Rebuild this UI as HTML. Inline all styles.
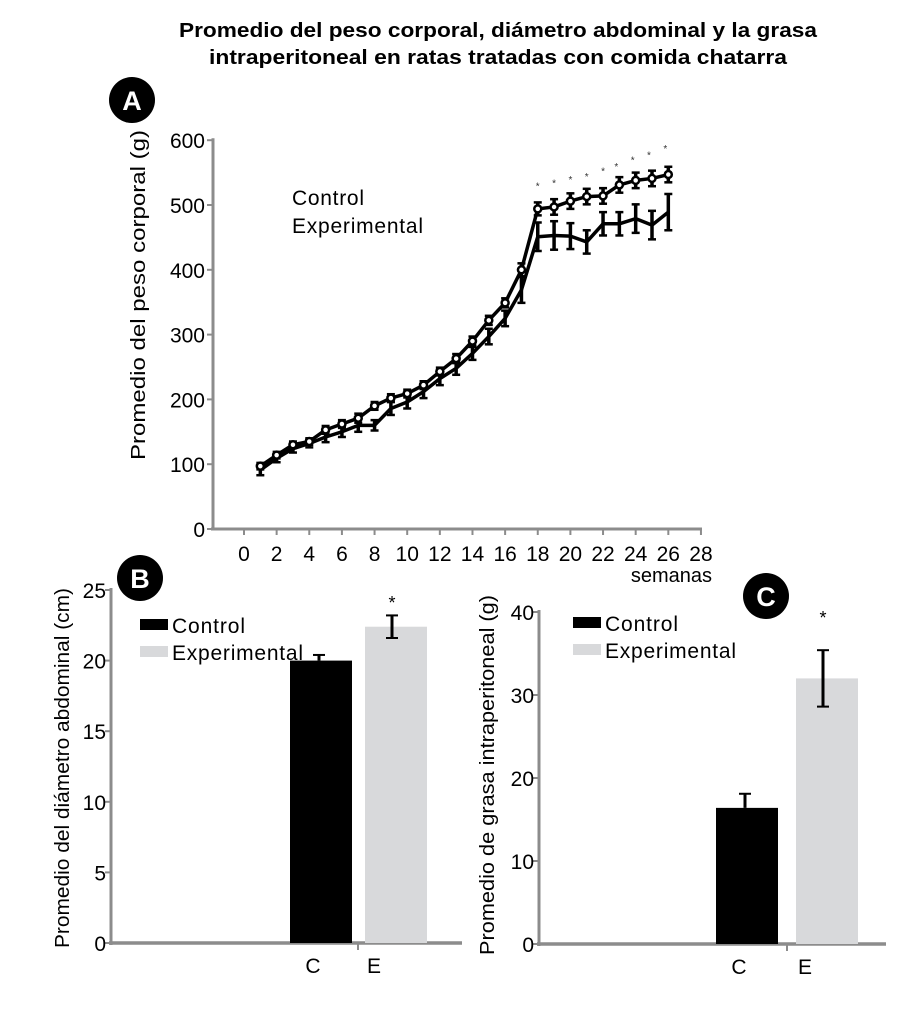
<!DOCTYPE html>
<html><head><meta charset="utf-8"><style>
body{margin:0;background:#fff;width:916px;height:1008px;overflow:hidden}
svg{font-family:"Liberation Sans",sans-serif}
</style></head><body>
<svg id="s" width="916" height="1008" viewBox="0 0 916 1008">
<g font-weight="bold" font-size="20" text-anchor="middle">
<text x="498" y="37" textLength="638" lengthAdjust="spacingAndGlyphs">Promedio del peso corporal, diámetro abdominal y la grasa</text>
<text x="498" y="64" textLength="578" lengthAdjust="spacingAndGlyphs">intraperitoneal en ratas tratadas con comida chatarra</text>
</g>
<g id="A"></g>
<g id="B"></g>
<g id="C"></g>
</svg>
<script>
const NS="http://www.w3.org/2000/svg";
function mk(p,t,a,txt){const e=document.createElementNS(NS,t);for(const k in a)e.setAttribute(k,a[k]);if(txt!==undefined)e.textContent=txt;p.appendChild(e);return e;}

// ---- Chart A data ----
const weeks=[1,2,3,4,5,6,7,8,9,10,11,12,13,14,15,16,17,18,19,20,21,22,23,24,25,26];
const controlVals=[97,114,130,135,153,162,171,190,202,209,222,243,263,290,322,349,400,494,497,506,513,514,531,538,541,547];
const controlErr=[5,5,5,5,6,6,7,6,6,6,6,6,7,7,7,7,10,10,12,12,12,12,12,12,12,12];
const expVals=[91,109,124,132,142,150,160,160,186,196,212,232,248,271,297,325,369,451,453,452,443,471,471,479,469,489];
const expErr=[8,6,6,6,8,8,10,8,10,10,10,10,10,10,12,12,20,22,22,20,18,18,18,22,22,28];
const sigWeeks=[18,19,20,21,22,23,24,25,26];
const sigY=[530,535,540,545,553,560,570,578,588];
const aYTicks=[0,100,200,300,400,500,600];
const aXTicks=[0,2,4,6,8,10,12,14,16,18,20,22,24,26,28];

const A=document.getElementById('A');
const ax=v=>244+v*16.32, ay=v=>529-v*0.648;
mk(A,'line',{x1:213,y1:ay(600)-2,x2:213,y2:530,stroke:'#8c8c8c','stroke-width':3,});
mk(A,'line',{x1:211,y1:529,x2:702,y2:529,stroke:'#8c8c8c','stroke-width':3,});
aYTicks.forEach(v=>{mk(A,'line',{x1:207,y1:ay(v),x2:213,y2:ay(v),stroke:'#8c8c8c','stroke-width':2});
 const t=mk(A,'text',{x:205,y:ay(v)+8,'font-size':21,'text-anchor':'end'},v);
 });
aXTicks.forEach(v=>{mk(A,'line',{x1:ax(v),y1:529,x2:ax(v),y2:535,stroke:'#8c8c8c','stroke-width':2});
 const t=mk(A,'text',{x:ax(v),y:561,'font-size':21,'text-anchor':'middle'},v);
 });
mk(A,'text',{x:712,y:582,'font-size':20,'text-anchor':'end',},'semanas');
mk(A,'text',{transform:'translate(145,295) rotate(-90)','font-size':20,'text-anchor':'middle',textLength:330,lengthAdjust:'spacingAndGlyphs',},'Promedio del peso corporal (g)');
mk(A,'text',{x:292,y:205,'font-size':21,textLength:72,},'Control');
mk(A,'text',{x:292,y:233,'font-size':21,textLength:131,},'Experimental');
function series(vals,err,name,circ){
 const g=mk(A,'g',{});
 mk(g,'polyline',{points:weeks.map((w,i)=>ax(w)+','+ay(vals[i])).join(' '),fill:'none',stroke:'#000','stroke-width':3.5,'stroke-linejoin':'round'});
 weeks.forEach((w,i)=>{const x=ax(w);
  mk(g,'line',{x1:x,y1:ay(vals[i]+err[i]),x2:x,y2:ay(vals[i]-err[i]),stroke:'#000','stroke-width':3.5});
  mk(g,'line',{x1:x-4,y1:ay(vals[i]+err[i]),x2:x+4,y2:ay(vals[i]+err[i]),stroke:'#000','stroke-width':2.5});
  mk(g,'line',{x1:x-4,y1:ay(vals[i]-err[i]),x2:x+4,y2:ay(vals[i]-err[i]),stroke:'#000','stroke-width':2.5});
  if(circ)mk(g,'circle',{cx:x,cy:ay(vals[i]),r:3.5,fill:'#fff',stroke:'#000','stroke-width':2.5});});
}
series(expVals,expErr,'experimental-line',false);
series(controlVals,controlErr,'control-line',true);
sigWeeks.forEach((w,i)=>{const t=mk(A,'text',{x:ax(w)+(i>4?-3:0),y:ay(sigY[i])+4,'font-size':10,'text-anchor':'middle',fill:'#333'},'*');
 });
mk(A,'circle',{cx:132,cy:100,r:23,fill:'#000',});
mk(A,'text',{x:132,y:110,'font-size':27,'font-weight':'bold',fill:'#fff','text-anchor':'middle'},'A');

// ---- Chart B data ----
const bCats=['C','E'];
const bVals=[20.0,22.4];
const bErr=[0.4,0.8];
const bTicks=[0,5,10,15,20,25];
// ---- Chart C data ----
const cCats=['C','E'];
const cVals=[16.4,32.0];
const cErr=[1.7,3.4];
const cTicks=[0,10,20,30,40];

function barChart(G,p,cats,vals,err,ticks,errUp,tag){
 const y=v=>p.y0-v*p.k;
 mk(G,'line',{x1:p.x0,y1:y(ticks[ticks.length-1])-2,x2:p.x0,y2:p.y0+2,stroke:'#8c8c8c','stroke-width':3});
 mk(G,'line',{x1:p.x0-2,y1:p.y0,x2:p.xe,y2:p.y0,stroke:'#8c8c8c','stroke-width':3.5});
 mk(G,'line',{x1:p.tick,y1:p.y0,x2:p.tick,y2:p.y0+7,stroke:'#8c8c8c','stroke-width':2});
 ticks.forEach(v=>{mk(G,'line',{x1:p.x0-6,y1:y(v),x2:p.x0,y2:y(v),stroke:'#8c8c8c','stroke-width':2});
  const t=mk(G,'text',{x:p.x0-5,y:y(v)+8,'font-size':21,'text-anchor':'end'},v);
  });
 const cols=['#000','#d8d9db'];
 cats.forEach((c,i)=>{const x=p.bx[i];
  const r=mk(G,'rect',{x:x,y:y(vals[i]),width:p.bw,height:p.y0-y(vals[i]),fill:cols[i]});
  
  const cx=x+p.bw/2+(i==0?-2:-4);
  const top=y(vals[i]+err[i]),bot=errUp[i]?y(vals[i]):y(vals[i]-err[i]);
  mk(G,'line',{x1:cx,y1:top,x2:cx,y2:bot,stroke:'#000','stroke-width':3});
  mk(G,'line',{x1:cx-6,y1:top,x2:cx+6,y2:top,stroke:'#000','stroke-width':2});
  if(!errUp[i])mk(G,'line',{x1:cx-6,y1:bot,x2:cx+6,y2:bot,stroke:'#000','stroke-width':2});
  const t=mk(G,'text',{x:x+p.bw/2-(i==0?8:22),y:p.y0+30,'font-size':21,'text-anchor':'middle'},c);
  
 });
 mk(G,'text',{x:p.bx[1]+p.bw/2-4,y:p.star,'font-size':18,'text-anchor':'middle',},'*');
 mk(G,'rect',{x:p.lx,y:p.ly,width:28,height:11,fill:'#000',});
 mk(G,'rect',{x:p.lx,y:p.ly+27,width:28,height:11,fill:'#d8d9db',});
 mk(G,'text',{x:p.lx+32,y:p.ly+14,'font-size':21,textLength:73,},'Control');
 mk(G,'text',{x:p.lx+32,y:p.ly+41,'font-size':21,textLength:131,},'Experimental');
 mk(G,'text',{transform:'translate('+p.tx+','+p.ty+') rotate(-90)','font-size':20,'text-anchor':'middle',textLength:360,lengthAdjust:'spacingAndGlyphs',},p.title);
 mk(G,'circle',{cx:p.bcx,cy:p.bcy,r:23,fill:'#000',});
 mk(G,'text',{x:p.bcx,y:p.bcy+10,'font-size':27,'font-weight':'bold',fill:'#fff','text-anchor':'middle'},tag.toUpperCase());
}
barChart(document.getElementById('B'),{x0:111,y0:943,k:14.12,xe:462,tick:358,bx:[290,365],bw:62,star:609,lx:140,ly:619,tx:69,ty:768,title:'Promedio del diámetro abdominal (cm)',bcx:140,bcy:578},bCats,bVals,bErr,bTicks,[true,false],'b');
barChart(document.getElementById('C'),{x0:539,y0:944,k:8.3,xe:886,tick:787,bx:[716,796],bw:62,star:624,lx:573,ly:617,tx:494,ty:775,title:'Promedio de grasa intraperitoneal (g)',bcx:766,bcy:596},cCats,cVals,cErr,cTicks,[true,false],'c');
</script>
</body></html>
